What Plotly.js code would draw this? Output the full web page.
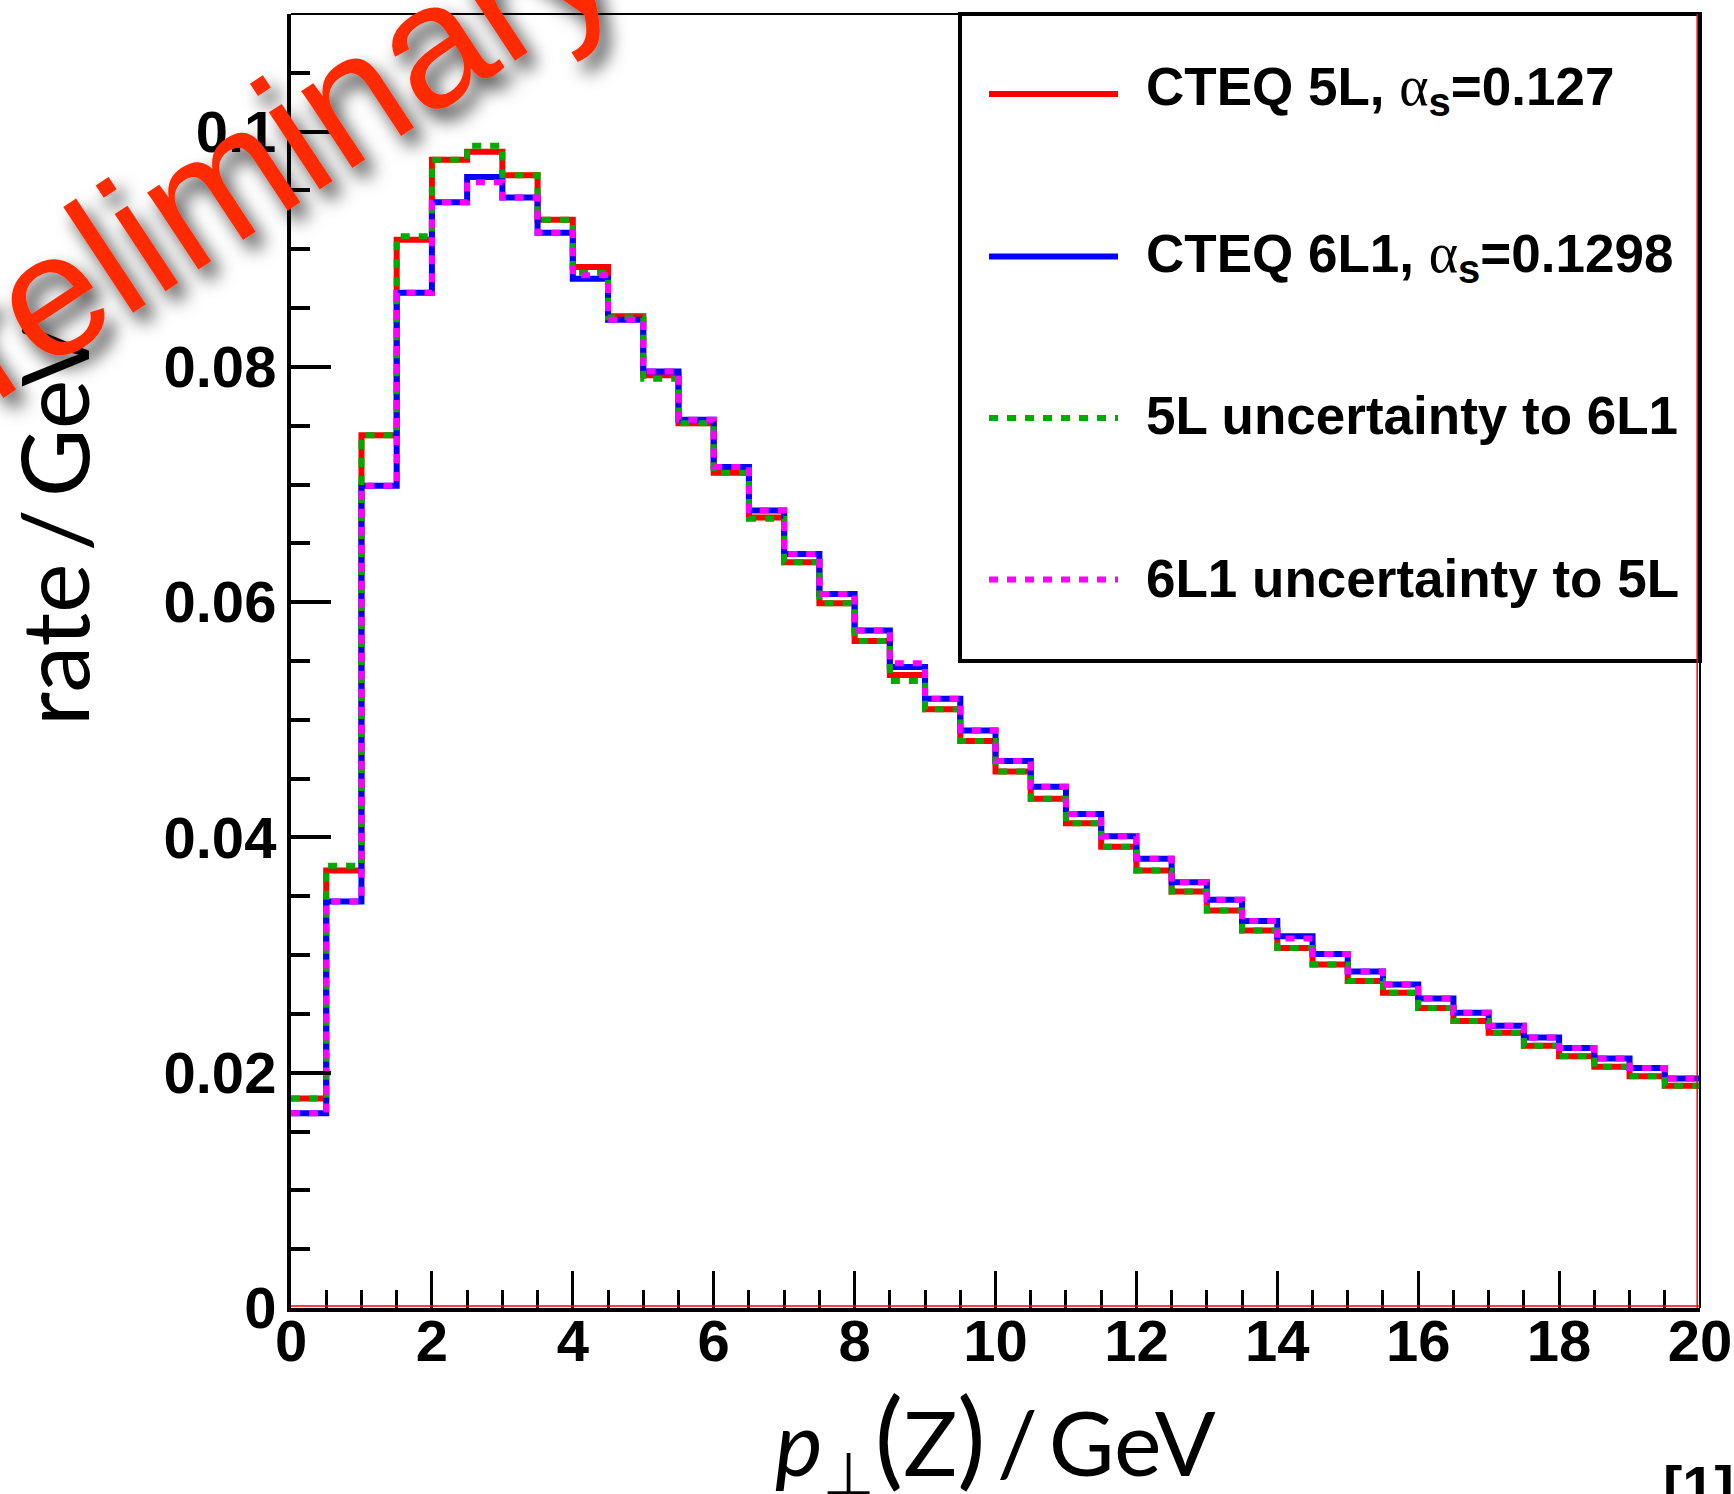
<!DOCTYPE html>
<html>
<head>
<meta charset="utf-8">
<script src="https://cdn.plot.ly/plotly-3.0.1.min.js"></script>
<style>
html,body{margin:0;padding:0;background:#ffffff;}
#chart{width:1734px;height:1494px;}
</style>
</head>
<body>
<div id="chart"></div>
<script>
// ---- data ----
const binEdges = [0,0.5,1,1.5,2,2.5,3,3.5,4,4.5,5,5.5,6,6.5,7,7.5,8,8.5,9,9.5,10,
                  10.5,11,11.5,12,12.5,13,13.5,14,14.5,15,15.5,16,16.5,17,17.5,18,18.5,19,19.5,20];

const cteq5L = [0.0178,0.0372,0.0742,0.0908,0.0976,0.0983,0.0963,0.0925,0.0885,0.0843,
                0.0793,0.0752,0.0710,0.0672,0.0634,0.0599,0.0567,0.0538,0.0509,0.0482,
                0.0456,0.0433,0.0412,0.0392,0.0372,0.0354,0.0338,0.0321,0.0306,0.0292,
                0.0278,0.0268,0.0255,0.0244,0.0234,0.0223,0.0214,0.0205,0.0197,0.0189];

const cteq6L1 = [0.01655,0.03455,0.0699,0.0863,0.0940,0.09615,0.0944,0.0914,0.0875,0.0840,
                 0.0796,0.0755,0.0715,0.0678,0.0641,0.0607,0.0576,0.0545,0.0518,0.0491,
                 0.0465,0.0443,0.0420,0.0401,0.0382,0.0362,0.0347,0.0329,0.0316,0.0301,
                 0.0286,0.0275,0.0263,0.0251,0.0240,0.0230,0.0221,0.0212,0.0204,0.0195];

const unc5Lto6L1 = [0.0178,0.0376,0.0742,0.0911,0.0976,0.0988,0.0963,0.0925,0.0880,0.0842,
                    0.0790,0.0752,0.0710,0.0671,0.0634,0.0599,0.0567,0.0533,0.0509,0.0482,
                    0.0456,0.0433,0.0412,0.0392,0.0372,0.0354,0.0338,0.0321,0.0306,0.0292,
                    0.0278,0.0268,0.0255,0.0244,0.0234,0.0223,0.0214,0.0205,0.0197,0.0189];

const unc6L1to5L = [0.01655,0.03455,0.0699,0.0863,0.0940,0.0957,0.0944,0.0914,0.0878,0.0840,
                    0.0796,0.0755,0.0715,0.0678,0.0641,0.0607,0.0576,0.0548,0.0518,0.0491,
                    0.0465,0.0443,0.0420,0.0401,0.0382,0.0362,0.0347,0.0329,0.0314,0.0301,
                    0.0286,0.0275,0.0263,0.0251,0.0240,0.0230,0.0221,0.0212,0.0204,0.0195];

const xTickVals = [0,2,4,6,8,10,12,14,16,18,20];
const xTickText = ['0','2','4','6','8','10','12','14','16','18','20'];
const yTickVals = [0,0.02,0.04,0.06,0.08,0.1];
const yTickText = ['0','0.02','0.04','0.06','0.08','0.1'];

const ALPHA = '<span style="font-family:Liberation Serif;font-weight:normal;font-size:56px">α</span>';
const SUB_S = '<sub><span style="font-size:40px">s</span></sub>';
const seriesNames = [
  'CTEQ 5L, ' + ALPHA + SUB_S + '=0.127',
  'CTEQ 6L1, ' + ALPHA + SUB_S + '=0.1298',
  '5L uncertainty to 6L1',
  '6L1 uncertainty to 5L'
];
const seriesColors = ['#ff0000','#0000ff','#00aa00','#ff00ff'];
const seriesDash = ['solid','solid','9px,9px','9px,9px'];

// ---- geometry helpers (pixel -> paper) ----
const W = 1734, H = 1494;
const M = {l:291, r:34, t:14, b:186};
const PW = W - M.l - M.r, PH = H - M.t - M.b;
const px2x = p => (p - M.l) / PW;
const px2y = p => (H - M.b - p) / PH;

function stepY(v){ return v.concat([v[v.length-1]]); }

const allSeries = [cteq5L, cteq6L1, unc5Lto6L1, unc6L1to5L];
const traces = allSeries.map((vals,i) => ({
  type:'scatter', mode:'lines',
  x: binEdges, y: stepY(vals),
  name: seriesNames[i],
  line:{shape:'hv', color:seriesColors[i], width:6, dash:seriesDash[i]},
  showlegend:false, hoverinfo:'skip'
}));

const tickFont = {family:'Liberation Sans, Arial, sans-serif', size:58, color:'#000', weight:'bold'};

const shapes = [
  {type:'line', xref:'paper', yref:'paper', x0:0, x1:1, y0:1, y1:1, line:{color:'#000', width:2}},
  {type:'line', xref:'paper', yref:'paper', x0:1, x1:1, y0:0, y1:1, line:{color:'#000', width:2}},
  {type:'rect', xref:'paper', yref:'paper', x0:px2x(960), x1:1.0, y0:px2y(661), y1:1.0,
   line:{color:'#000', width:4}, fillcolor:'#ffffff', layer:'above'},
  {type:'line', xref:'paper', yref:'paper', x0:0.998, x1:0.998, y0:0, y1:1, line:{color:'#ff0000', width:1.5}, layer:'above'},
  {type:'line', xref:'paper', yref:'paper', x0:0, x1:1, y0:0.0015, y1:0.0015, line:{color:'#ff0000', width:1.5}, layer:'above'}
];
const legendY = [94, 256.5, 418, 579.5];
const legendTextY = [90, 256, 415, 578];
legendY.forEach((py,i) => {
  shapes.push({type:'line', xref:'paper', yref:'paper', layer:'above',
    x0:px2x(989), x1:px2x(1118), y0:px2y(py), y1:px2y(py),
    line:{color:seriesColors[i], width:6, dash:seriesDash[i]}});
});

const annotations = [];
legendTextY.forEach((py,i) => {
  annotations.push({xref:'paper', yref:'paper', x:px2x(1144), y:px2y(py),
    xanchor:'left', yanchor:'middle', showarrow:false, text:seriesNames[i],
    font:{family:'Liberation Sans, Arial, sans-serif', size:53, color:'#000', weight:'bold'}});
});
// axis titles
annotations.push({xref:'paper', yref:'paper', x:px2x(52), y:px2y(525), textangle:-90,
  xanchor:'center', yanchor:'middle', showarrow:false,
  text:'rate\u2009/\u2009GeV', font:{family:'Lato, Open Sans, sans-serif', size:94, color:'#000'}});
annotations.push({xref:'paper', yref:'paper', x:px2x(995), y:px2y(1440),
  xanchor:'center', yanchor:'middle', showarrow:false,
  text:'<i>p</i><sub><span style="font-family:DejaVu Sans;font-size:60px">⊥</span></sub><span style="font-size:106px">(</span>Z<span style="font-size:106px">)</span>\u2009/\u2009GeV',
  font:{family:'Lato, Open Sans, sans-serif', size:90, color:'#000'}});
annotations.push({xref:'paper', yref:'paper', x:px2x(1698), y:px2y(1452),
  xanchor:'center', yanchor:'top', showarrow:false, text:'[1]',
  font:{family:'Liberation Sans, Arial, sans-serif', size:58, color:'#000', weight:'bold'}});
// watermark
annotations.push({xref:'paper', yref:'paper', x:px2x(228), y:px2y(177), textangle:-33.4,
  xanchor:'center', yanchor:'middle', showarrow:false, text:'Preliminary',
  font:{family:'Liberation Sans, Arial, sans-serif', size:175, color:'#ff2b00'}});

const layout = {
  width:W, height:H,
  margin:{l:M.l, r:M.r, t:M.t, b:M.b, pad:0},
  paper_bgcolor:'#ffffff', plot_bgcolor:'#ffffff',
  showlegend:false,
  xaxis:{range:[0,20], tickmode:'array', tickvals:xTickVals, ticktext:xTickText,
    ticks:'inside', ticklen:37, tickwidth:3, tickcolor:'#000',
    showline:true, linewidth:4, linecolor:'#000', mirror:false,
    showgrid:false, zeroline:false, tickfont:tickFont, ticklabelstandoff:-21,
    minor:{tickmode:'linear', tick0:0, dtick:0.5, ticks:'inside', ticklen:18, tickwidth:3, tickcolor:'#000', showgrid:false}},
  yaxis:{range:[0,0.11], tickmode:'array', tickvals:yTickVals, ticktext:yTickText,
    ticks:'inside', ticklen:40, tickwidth:4, tickcolor:'#000',
    showline:true, linewidth:4, linecolor:'#000', mirror:false,
    showgrid:false, zeroline:false, tickfont:tickFont, ticklabelstandoff:-1,
    minor:{tickmode:'linear', tick0:0, dtick:0.005, ticks:'inside', ticklen:19, tickwidth:4, tickcolor:'#000', showgrid:false}},
  shapes:shapes,
  annotations:annotations
};

Plotly.newPlot('chart', traces, layout, {staticPlot:true, displayModeBar:false}).then(gd => {
  // soft drop shadow behind the watermark text
  const svg = gd.querySelector('svg.main-svg');
  const NS = 'http://www.w3.org/2000/svg';
  let defs = svg.querySelector('defs');
  if(!defs){ defs = document.createElementNS(NS,'defs'); svg.insertBefore(defs, svg.firstChild); }
  const f = document.createElementNS(NS,'filter');
  f.setAttribute('id','wmShadow');
  f.setAttribute('x','-30%'); f.setAttribute('y','-30%');
  f.setAttribute('width','160%'); f.setAttribute('height','160%');
  f.innerHTML = '<feGaussianBlur in="SourceAlpha" stdDeviation="9" result="b"/>' +
    '<feOffset in="b" dx="9" dy="11" result="o"/>' +
    '<feFlood flood-color="#000" flood-opacity="0.75"/>' +
    '<feComposite in2="o" operator="in" result="s"/>' +
    '<feMerge><feMergeNode in="s"/><feMergeNode in="SourceGraphic"/></feMerge>';
  defs.appendChild(f);
  gd.querySelectorAll('g.annotation').forEach(g => {
    const t = g.querySelector('text');
    if(t && t.textContent === 'Preliminary') g.setAttribute('filter','url(#wmShadow)');
  });
});
</script>
</body>
</html>
